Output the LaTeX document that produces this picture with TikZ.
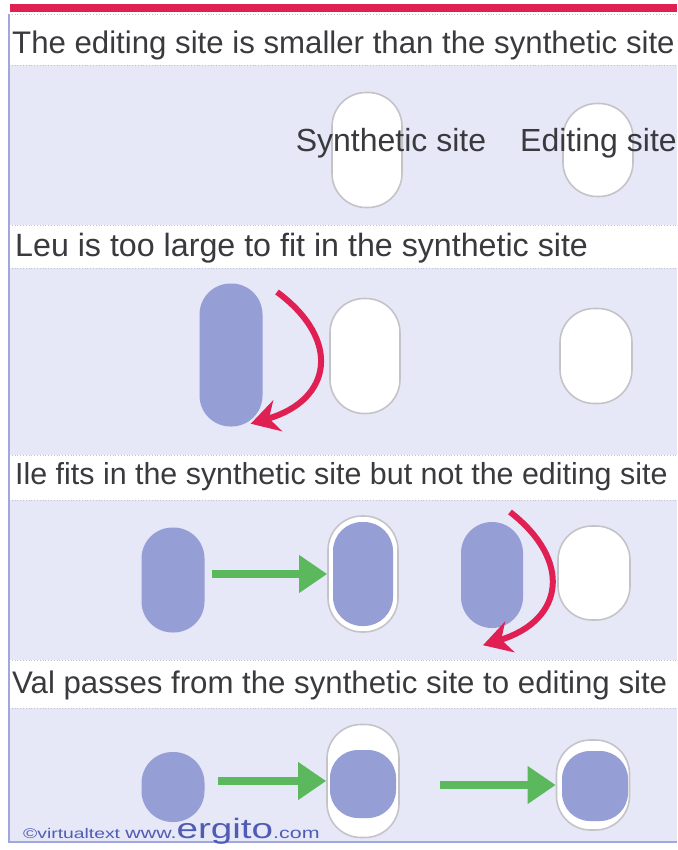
\documentclass[tikz,border=0pt]{standalone}
\usepackage{fontspec}
\usepackage{graphicx}
\setmainfont{Liberation Sans}
\usetikzlibrary{positioning,arrows.meta,calc}
\definecolor{ink}{RGB}{58,58,62}
\definecolor{panel}{RGB}{230,232,248}
\definecolor{aablue}{RGB}{150,158,214}
\definecolor{sitegray}{RGB}{196,196,200}
\definecolor{redarr}{RGB}{224,32,82}
\definecolor{greenarr}{RGB}{92,184,92}
\definecolor{framebl}{RGB}{160,166,222}
\definecolor{logoblue}{RGB}{80,92,180}
\tikzset{
  title/.style={anchor=west, inner sep=0pt, font=\fontsize{31.2}{34}\selectfont, text=ink},
  sitelab/.style={inner sep=0pt, font=\fontsize{32}{35}\selectfont, text=ink},
  site/.style={draw=sitegray, fill=white, line width=1.6pt, inner sep=0pt,
    rounded corners=34pt, minimum width=70pt},
  aa/.style={fill=aablue, inner sep=0pt, rounded corners=31pt, minimum width=63pt},
  flowg/.style={-{Triangle[length=28pt,width=36pt]}, line width=8pt, draw=greenarr},
  flowr/.style={-{Stealth[length=28pt,width=32pt,inset=9pt]}, line width=6pt, draw=redarr},
  sep/.style={draw=sitegray, dotted, line width=0.8pt},
}
\begin{document}
\begin{tikzpicture}[x=1pt,y=-1pt]
  \useasboundingbox (0,0) rectangle (677,850);
  \fill[white] (0,0) rectangle (677,850);
  % bands
  \fill[redarr] (10,4) rectangle (677,12);
  \fill[panel] (9,65) rectangle (677,225);
  \fill[panel] (9,268) rectangle (677,455);
  \fill[panel] (9,500) rectangle (677,660);
  \fill[panel] (9,708) rectangle (677,842);
  \foreach \yy in {14,65,225,268,455,500,660,708}
    \draw[sep] (9,\yy) -- (677,\yy);
  \draw[framebl, line width=1.2pt] (9,14) -- (9,842) -- (677,842);
  % titles
  \node[title] (t1) at (12,45) {The editing site is smaller than the synthetic site};
  \node[title, font=\fontsize{32.2}{35}\selectfont] (t2) at (15,248) {Leu is too large to fit in the synthetic site};
  \node[title, font=\fontsize{30.4}{33}\selectfont] (t3) at (15,477) {Ile fits in the synthetic site but not the editing site};
  \node[title] (t4) at (12,685) {Val passes from the synthetic site to editing site};
  % panel 1
  \node[site, minimum height=115pt] (syn1) at (367,150) {};
  \node[site, minimum height=93pt] (edi1) at (598,150) {};
  \node[sitelab] (synlab) at (391,143) {Synthetic site};
  \node[sitelab, anchor=west] (edilab) at (520,143) {Editing site};
  % panel 2
  \node[aa, minimum height=143pt] (leu) at (231,355) {};
  \node[site, minimum height=115pt] (syn2) at (365,356) {};
  \node[site, minimum width=72pt, minimum height=95pt] (edi2) at (596,356) {};
  \coordinate (leuS) at (277,292);
  \draw[flowr] (leuS) .. controls (342,340) and (332,400) .. ([xshift=-12pt,yshift=3pt]leu.south east);
  % panel 3
  \node[aa, minimum height=105pt] (ile1) at (173,580) {};
  \node[site, minimum height=116pt] (syn3) at (363,574) {};
  \node[aa, minimum width=60pt, minimum height=104pt, rounded corners=29pt] (ile3) at (363,574) {};
  \node[aa, minimum width=62pt, minimum height=106pt] (ile2) at (492,575) {};
  \node[site, minimum width=72pt, minimum height=94pt] (edi3) at (594,573) {};
  \draw[flowg] ([xshift=7pt]syn3.west -| ile1.east) -- (syn3.west);
  \coordinate (ileS) at (510,512);
  \draw[flowr] (ileS) .. controls (572,560) and (565,620) .. ([xshift=-9pt,yshift=-17pt]ile2.south);
  % panel 4
  \node[aa, minimum height=70pt] (val1) at (173,787) {};
  \node[site, minimum width=72pt, minimum height=113pt] (syn4) at (363,781) {};
  \node[aa, minimum width=66pt, minimum height=68pt, rounded corners=28pt] (val2) at (363,784) {};
  \node[site, minimum width=73pt, minimum height=90pt] (edi4) at (593,785) {};
  \node[aa, minimum width=66pt, minimum height=70pt, rounded corners=28pt] (val3) at (595,786) {};
  \draw[flowg] ([xshift=13pt]syn4.west -| val1.east) -- (syn4.west);
  \coordinate (valS) at (440,785);
  \draw[flowg] (valS) -- (edi4.west);
  % footer
  \node[anchor=base west, inner sep=0pt, text=logoblue] (logo) at (23,838)
    {\scalebox{1.38}[1]{\fontsize{14}{15}\selectfont\textcopyright virtualtext\ \fontsize{15.5}{17}\selectfont www.\fontsize{28}{30}\selectfont ergito\fontsize{15.5}{17}\selectfont .com}};
\end{tikzpicture}
\end{document}
